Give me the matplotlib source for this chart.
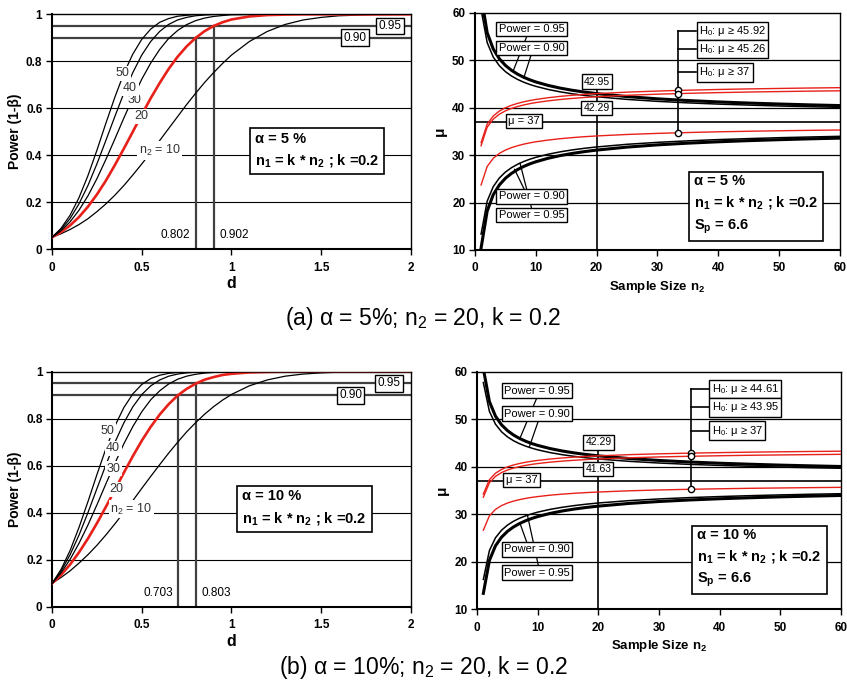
import matplotlib
matplotlib.use("Agg")
import matplotlib.pyplot as plt

plt.rcParams['font.family'] = ['Liberation Sans', 'DejaVu Sans']
plt.rcParams['mathtext.default'] = 'regular'

# ---------------- power curves (left panels) ----------------
d_grid = [0, 0.05, 0.1, 0.15, 0.2, 0.25, 0.3, 0.35, 0.4, 0.45, 0.5, 0.55, 0.6, 0.65,
          0.7, 0.75, 0.8, 0.85, 0.9, 0.95, 1.0, 1.1, 1.2, 1.3, 1.4, 1.5, 1.6, 1.8, 2.0]

# alpha = 5 %
pow5_n10 = [0.050, 0.065, 0.083, 0.104, 0.129, 0.159, 0.192, 0.229, 0.270, 0.315, 0.362, 0.411,
            0.462, 0.513, 0.564, 0.615, 0.663, 0.709, 0.751, 0.790, 0.826, 0.884, 0.927, 0.957,
            0.976, 0.987, 0.994, 0.999, 1.000]
pow5_n20 = [0.050, 0.072, 0.100, 0.136, 0.180, 0.232, 0.291, 0.357, 0.427, 0.499, 0.572, 0.642,
            0.707, 0.767, 0.819, 0.863, 0.899, 0.928, 0.950, 0.966, 0.978, 0.991, 0.997, 0.999,
            1.000, 1.000, 1.000, 1.000, 1.000]
pow5_n30 = [0.050, 0.078, 0.115, 0.165, 0.226, 0.299, 0.381, 0.468, 0.557, 0.643, 0.723, 0.792,
            0.850, 0.897, 0.931, 0.956, 0.973, 0.984, 0.991, 0.995, 0.998, 0.999, 1.000, 1.000,
            1.000, 1.000, 1.000, 1.000, 1.000]
pow5_n40 = [0.050, 0.083, 0.129, 0.192, 0.270, 0.362, 0.462, 0.564, 0.663, 0.751, 0.826, 0.884,
            0.927, 0.957, 0.976, 0.987, 0.994, 0.997, 0.999, 1.000, 1.000, 1.000, 1.000, 1.000,
            1.000, 1.000, 1.000, 1.000, 1.000]
pow5_n50 = [0.050, 0.088, 0.143, 0.218, 0.312, 0.420, 0.535, 0.646, 0.747, 0.830, 0.893, 0.937,
            0.966, 0.982, 0.992, 0.996, 0.999, 1.000, 1.000, 1.000, 1.000, 1.000, 1.000, 1.000,
            1.000, 1.000, 1.000, 1.000, 1.000]

# alpha = 10 %
pow10_n10 = [0.100, 0.125, 0.153, 0.186, 0.222, 0.262, 0.306, 0.353, 0.402, 0.452, 0.504, 0.555,
             0.605, 0.654, 0.700, 0.744, 0.783, 0.819, 0.851, 0.879, 0.903, 0.940, 0.965, 0.981,
             0.990, 0.995, 0.998, 1.000, 1.000]
pow10_n20 = [0.100, 0.136, 0.180, 0.232, 0.291, 0.356, 0.426, 0.498, 0.571, 0.641, 0.707, 0.766,
             0.818, 0.862, 0.899, 0.927, 0.949, 0.966, 0.977, 0.986, 0.991, 0.997, 0.999, 1.000,
             1.000, 1.000, 1.000, 1.000, 1.000]
pow10_n30 = [0.100, 0.145, 0.202, 0.271, 0.349, 0.435, 0.524, 0.611, 0.694, 0.767, 0.830, 0.881,
             0.919, 0.948, 0.968, 0.981, 0.989, 0.994, 0.997, 0.998, 0.999, 1.000, 1.000, 1.000,
             1.000, 1.000, 1.000, 1.000, 1.000]
pow10_n40 = [0.100, 0.153, 0.222, 0.306, 0.402, 0.504, 0.605, 0.700, 0.783, 0.851, 0.903, 0.940,
             0.965, 0.981, 0.990, 0.995, 0.998, 0.999, 1.000, 1.000, 1.000, 1.000, 1.000, 1.000,
             1.000, 1.000, 1.000, 1.000, 1.000]
pow10_n50 = [0.100, 0.160, 0.240, 0.339, 0.449, 0.564, 0.674, 0.770, 0.848, 0.906, 0.946, 0.971,
             0.985, 0.993, 0.997, 0.999, 1.000, 1.000, 1.000, 1.000, 1.000, 1.000, 1.000, 1.000,
             1.000, 1.000, 1.000, 1.000, 1.000]

# ---------------- mu vs n2 (right panels) ----------------
n2_grid = [1, 2, 3, 4, 5, 6, 7, 8, 9, 10, 12, 14, 16, 18, 20, 25, 30, 35, 40, 45, 50, 55, 60]

# alpha = 5 %
mu5_up95 = [63.59, 55.80, 52.35, 50.30, 48.89, 47.86, 47.05, 46.40, 45.86, 45.41, 44.68, 44.11,
            43.65, 43.27, 42.95, 42.32, 41.85, 41.49, 41.20, 40.96, 40.76, 40.58, 40.43]
mu5_lo95 = [10.41, 18.20, 21.65, 23.70, 25.11, 26.14, 26.95, 27.60, 28.14, 28.59, 29.32, 29.89,
            30.35, 30.73, 31.05, 31.68, 32.15, 32.51, 32.80, 33.04, 33.24, 33.42, 33.57]
mu5_up90 = [60.65, 53.72, 50.65, 48.83, 47.58, 46.66, 45.94, 45.36, 44.88, 44.48, 43.83, 43.32,
            42.91, 42.57, 42.29, 41.73, 41.32, 41.00, 40.74, 40.53, 40.34, 40.19, 40.05]
mu5_lo90 = [13.35, 20.28, 23.35, 25.17, 26.42, 27.34, 28.06, 28.64, 29.12, 29.52, 30.17, 30.68,
            31.09, 31.43, 31.71, 32.27, 32.68, 33.00, 33.26, 33.47, 33.66, 33.81, 33.95]
mu5_red1 = [32.62, 36.52, 38.24, 39.27, 39.97, 40.49, 40.89, 41.22, 41.49, 41.72, 42.08, 42.37,
            42.60, 42.79, 42.95, 43.26, 43.49, 43.67, 43.82, 43.94, 44.04, 44.13, 44.20]
mu5_red2 = [31.96, 35.86, 37.58, 38.61, 39.31, 39.83, 40.23, 40.56, 40.83, 41.06, 41.42, 41.71,
            41.94, 42.13, 42.29, 42.60, 42.83, 43.01, 43.16, 43.28, 43.38, 43.47, 43.54]
mu5_red3 = [23.70, 27.60, 29.32, 30.35, 31.05, 31.57, 31.97, 32.30, 32.57, 32.80, 33.16, 33.45,
            33.68, 33.87, 34.03, 34.34, 34.57, 34.75, 34.90, 35.02, 35.12, 35.21, 35.28]

# alpha = 10 %
mu10_up95 = mu5_up90
mu10_lo95 = mu5_lo90
mu10_up90 = [57.72, 51.65, 48.96, 47.36, 46.27, 45.46, 44.83, 44.33, 43.91, 43.55, 42.98, 42.54,
             42.18, 41.88, 41.63, 41.14, 40.78, 40.50, 40.28, 40.09, 39.93, 39.79, 39.68]
mu10_lo90 = [16.28, 22.35, 25.04, 26.64, 27.73, 28.54, 29.17, 29.67, 30.09, 30.45, 31.02, 31.46,
             31.82, 32.12, 32.37, 32.86, 33.22, 33.50, 33.72, 33.91, 34.07, 34.21, 34.32]
mu10_red1 = [34.25, 37.28, 38.63, 39.43, 39.98, 40.38, 40.69, 40.95, 41.16, 41.33, 41.62, 41.84,
             42.02, 42.17, 42.29, 42.54, 42.72, 42.86, 42.97, 43.07, 43.14, 43.21, 43.27]
mu10_red2 = [33.59, 36.62, 37.97, 38.77, 39.32, 39.72, 40.03, 40.29, 40.50, 40.67, 40.96, 41.18,
             41.36, 41.51, 41.63, 41.88, 42.06, 42.20, 42.31, 42.41, 42.48, 42.55, 42.61]
mu10_red3 = [26.64, 29.67, 31.02, 31.82, 32.37, 32.77, 33.08, 33.34, 33.55, 33.72, 34.01, 34.23,
             34.41, 34.56, 34.68, 34.93, 35.11, 35.25, 35.36, 35.46, 35.53, 35.60, 35.66]

curve_labels = ["n$_2$ = 10", "20", "30", "40", "50"]

BOX = dict(boxstyle='square,pad=0.2', fc='white', ec='black', lw=1.0)
NOBOX = dict(boxstyle='square,pad=0.12', fc='white', ec='none')


def style_axes(ax):
    for s in ax.spines.values():
        s.set_color('black')
        s.set_linewidth(1.0)
    ax.spines['left'].set_linewidth(1.5)
    ax.spines['bottom'].set_linewidth(1.5)
    ax.tick_params(direction='out', length=4, width=1, labelsize=8.5)
    ax.tick_params(axis='x', pad=5)
    ax.tick_params(axis='y', pad=3)
    for t in ax.get_xticklabels() + ax.get_yticklabels():
        t.set_fontweight('bold')


def power_panel(ax, curves, alpha_txt, d90, d95, lbl_pos, box_pos):
    for p in [0.2, 0.4, 0.6, 0.8]:
        ax.axhline(p, color='black', lw=0.8, zorder=1)
    ax.axhline(0.95, color='#404040', lw=1.6, zorder=1)
    ax.axhline(0.90, color='#404040', lw=1.6, zorder=1)
    ax.plot([d90, d90], [0, 0.90], color='#404040', lw=1.6, zorder=1)
    ax.plot([d95, d95], [0, 0.95], color='#404040', lw=1.6, zorder=1)

    for i, y in enumerate(curves):
        if i == 1:
            ax.plot(d_grid, y, color='#e8201a', lw=1.9, zorder=3)
        else:
            ax.plot(d_grid, y, color='black', lw=0.9, zorder=3)
    for txt, (x, y) in zip(curve_labels, lbl_pos):
        ax.text(x, y, txt, fontsize=9, color='#333333', ha='center', va='center',
                bbox=NOBOX, zorder=4)

    ax.text(d90 - 0.03, 0.06, f"{d90:.3f}", fontsize=8.5, ha='right', va='center')
    ax.text(d95 + 0.03, 0.06, f"{d95:.3f}", fontsize=8.5, ha='left', va='center')
    ax.text(box_pos[2], 0.95, "0.95", fontsize=8.5, ha='center', va='center', bbox=BOX, zorder=5)
    ax.text(box_pos[3], 0.90, "0.90", fontsize=8.5, ha='center', va='center', bbox=BOX, zorder=5)
    ax.text(box_pos[0], box_pos[1], alpha_txt + "\nn$_1$ = k * n$_2$ ; k =0.2",
            fontsize=10.5, fontweight='bold', ha='left', va='center', linespacing=1.5,
            bbox=dict(boxstyle='square,pad=0.35', fc='white', ec='black', lw=1.2), zorder=5)

    ax.set_xlim(0, 2)
    ax.set_ylim(0, 1)
    ax.set_xticks([0, 0.5, 1, 1.5, 2])
    ax.set_xticklabels(["0", "0.5", "1", "1.5", "2"])
    ax.set_yticks([0, 0.2, 0.4, 0.6, 0.8, 1])
    ax.set_yticklabels(["0", "0.2", "0.4", "0.6", "0.8", "1"])
    ax.set_xlabel("d", fontsize=11.5, fontweight='bold', labelpad=2)
    ax.set_ylabel("Power (1-β)", fontsize=10, fontweight='bold', labelpad=3)
    style_axes(ax)


def mu_panel(ax, up95, up90, lo95, lo90, reds, h0_vals, n_mark, alpha_txt, cfg):
    for m in [20, 30, 40, 50]:
        ax.axhline(m, color='black', lw=0.9, zorder=1)
    ax.axhline(37, color='black', lw=1.2, zorder=1)

    ax.plot(n2_grid, up95, color='black', lw=2.2, zorder=3)
    ax.plot(n2_grid, lo95, color='black', lw=2.2, zorder=3)
    ax.plot(n2_grid, up90, color='black', lw=1.1, zorder=3)
    ax.plot(n2_grid, lo90, color='black', lw=1.1, zorder=3)
    for r in reds:
        ax.plot(n2_grid, r, color='#e8201a', lw=1.0, zorder=3)

    # n2 = 20 marker line and crossing values
    v95, v90 = up95[n2_grid.index(20)], up90[n2_grid.index(20)]
    ax.plot([20, 20], [10, cfg['top20']], color='black', lw=1.2, zorder=2)
    ax.text(20, cfg['top20'], f"{v95:.2f}", fontsize=7.5, ha='center', va='center', bbox=BOX, zorder=5)
    ax.text(20, cfg['low20'], f"{v90:.2f}", fontsize=7.5, ha='center', va='center', bbox=BOX, zorder=5)
    ax.text(cfg['mu37x'], 37.2, "μ = 37", fontsize=8, ha='center', va='center', bbox=BOX, zorder=5)

    # H0 bracket
    ax.plot([n_mark, n_mark], [cfg['h0_marks'][2], cfg['h0_y'][0]], color='black', lw=1.2, zorder=4)
    for yy, hv in zip(cfg['h0_y'], h0_vals):
        ax.plot([n_mark, n_mark + 3], [yy, yy], color='black', lw=1.2, zorder=4)
        ax.text(n_mark + 3.4, yy, f"H$_0$: μ ≥ {hv:g}", fontsize=8, ha='left', va='center',
                bbox=BOX, zorder=5)
    ax.plot([n_mark] * 3, cfg['h0_marks'], 'o', ms=4.5, mfc='white', mec='black', mew=1.0, zorder=6)

    # power label leaders
    for (x0, y0, x1, y1) in cfg['leaders']:
        ax.plot([x0, x1], [y0, y1], color='black', lw=0.9, zorder=4)
    for (x, y, t) in cfg['pwr_labels']:
        ax.text(x, y, t, fontsize=8, ha='center', va='center', bbox=BOX, zorder=5)

    ax.text(cfg['info'][0], cfg['info'][1],
            alpha_txt + "\nn$_1$ = k * n$_2$ ; k =0.2\nS$_p$ = 6.6",
            fontsize=10.5, fontweight='bold', ha='left', va='center', linespacing=1.5,
            bbox=dict(boxstyle='square,pad=0.35', fc='white', ec='black', lw=1.2), zorder=5)

    ax.set_xlim(0, 60)
    ax.set_ylim(10, 60)
    ax.set_xticks(range(0, 61, 10))
    ax.set_yticks(range(10, 61, 10))
    ax.set_xlabel("Sample Size n$_2$", fontsize=9.5, fontweight='bold', labelpad=3)
    ax.set_ylabel("μ", fontsize=11, fontweight='bold', labelpad=4)
    style_axes(ax)


fig = plt.figure(figsize=(8.47, 6.90), dpi=100)
ax1 = fig.add_axes([0.0614, 0.6391, 0.4235, 0.3401])
ax2 = fig.add_axes([0.5608, 0.6377, 0.4309, 0.3439])
ax3 = fig.add_axes([0.0617, 0.1207, 0.4231, 0.3406])
ax4 = fig.add_axes([0.5635, 0.1170, 0.4290, 0.3443])

power_panel(ax1, [pow5_n10, pow5_n20, pow5_n30, pow5_n40, pow5_n50], "α = 5 %", 0.802, 0.902,
            [(0.60, 0.42), (0.50, 0.565), (0.462, 0.635), (0.435, 0.685), (0.395, 0.75)],
            (1.13, 0.42, 1.885, 1.69))
power_panel(ax3, [pow10_n10, pow10_n20, pow10_n30, pow10_n40, pow10_n50], "α = 10 %", 0.703, 0.803,
            [(0.44, 0.415), (0.355, 0.50), (0.34, 0.586), (0.34, 0.674), (0.307, 0.748)],
            (1.06, 0.42, 1.88, 1.665))

cfg_a = dict(top20=45.5, low20=39.9, mu37x=8.0, h0_y=[56.1, 52.3, 47.4],
             h0_marks=[43.62, 42.96, 34.70],
             leaders=[(8.6, 55.3, 6.3, 47.8), (9.3, 51.4, 8.0, 46.2),
                      (6.5, 27.0, 8.2, 22.5), (7.4, 28.3, 9.3, 18.8)],
             pwr_labels=[(9.3, 56.6, "Power = 0.95"), (9.3, 52.6, "Power = 0.90"),
                         (9.3, 21.3, "Power = 0.90"), (9.3, 17.4, "Power = 0.95")],
             info=(36.0, 19.5))
cfg_b = dict(top20=45.1, low20=39.6, mu37x=7.3, h0_y=[56.4, 52.5, 47.6],
             h0_marks=[42.87, 42.21, 35.26],
             leaders=[(9.8, 54.4, 7.05, 46.0), (10.1, 49.7, 8.6, 44.2),
                      (7.05, 28.1, 8.2, 24.0), (8.3, 29.7, 10.1, 19.1)],
             pwr_labels=[(9.9, 56.0, "Power = 0.95"), (9.9, 51.2, "Power = 0.90"),
                         (9.9, 22.6, "Power = 0.90"), (9.9, 17.7, "Power = 0.95")],
             info=(36.3, 20.7))

mu_panel(ax2, mu5_up95, mu5_up90, mu5_lo95, mu5_lo90, [mu5_red1, mu5_red2, mu5_red3],
         [45.92, 45.26, 37], 33.4, "α = 5 %", cfg_a)
mu_panel(ax4, mu10_up95, mu10_up90, mu10_lo95, mu10_lo90, [mu10_red1, mu10_red2, mu10_red3],
         [44.61, 43.95, 37], 35.3, "α = 10 %", cfg_b)

fig.text(0.5, 0.539, "(a) α = 5%; n$_2$ = 20, k = 0.2", fontsize=16.5, ha='center', va='center')
fig.text(0.5, 0.032, "(b) α = 10%; n$_2$ = 20, k = 0.2", fontsize=16.5, ha='center', va='center')

fig.savefig("out.png", dpi=100)
